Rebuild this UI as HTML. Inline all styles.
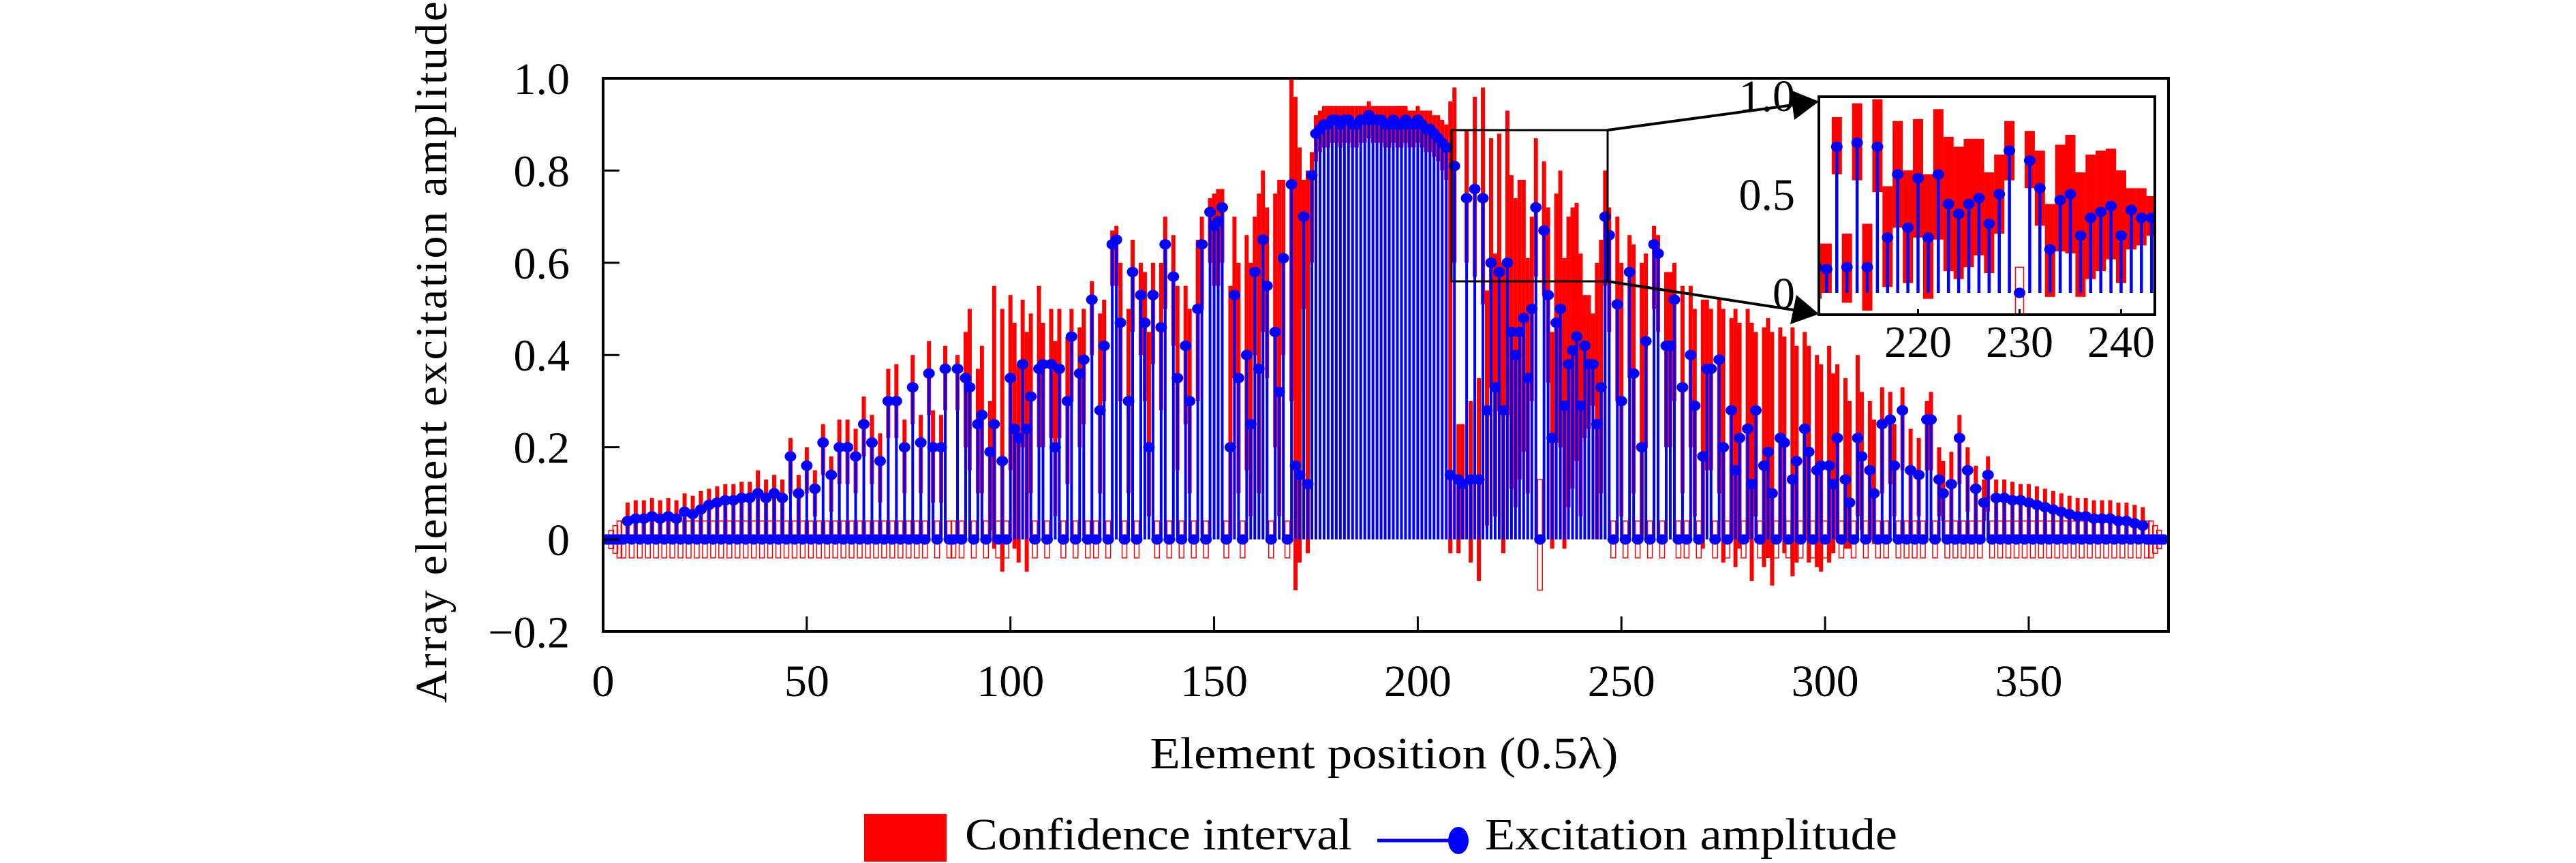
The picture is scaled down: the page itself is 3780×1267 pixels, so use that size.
<!DOCTYPE html>
<html><head><meta charset="utf-8"><style>
html,body{margin:0;padding:0;background:#fff;}
svg{display:block;}
text{font-family:"Liberation Serif",serif;fill:#000;}
</style></head><body>
<svg id="chart" width="3780" height="1267" viewBox="0 0 3780 1267" xmlns="http://www.w3.org/2000/svg">
<defs>
<clipPath id="mainClip"><rect x="885" y="115" width="2297" height="812"/></clipPath>
<clipPath id="insetClip"><rect x="2669" y="142" width="493" height="320"/></clipPath>
</defs>
<g id="mainMarks" clip-path="url(#mainClip)"></g>
<rect x="885" y="115" width="2297" height="812" fill="none" stroke="#000" stroke-width="4"/>
<g id="axes"></g>
<rect x="2130" y="191" width="229" height="222" fill="none" stroke="#000" stroke-width="3"/>
<line x1="2359" y1="191" x2="2632" y2="154" stroke="#000" stroke-width="4"/>
<polygon points="2669,149 2627,132 2633,176" fill="#000"/>
<line x1="2359" y1="413" x2="2632" y2="455" stroke="#000" stroke-width="4"/>
<polygon points="2669,461 2636,433 2627,476" fill="#000"/>
<rect x="2669" y="142" width="493" height="320" fill="#fff"/>
<g id="insetMarks" clip-path="url(#insetClip)"></g>
<rect x="2669" y="142" width="493" height="320" fill="none" stroke="#000" stroke-width="4"/>
<g id="insetAxes"></g>
<text x="2031" y="1128" font-size="66" text-anchor="middle" textLength="687" lengthAdjust="spacingAndGlyphs">Element position (0.5λ)</text>
<text transform="translate(655,517) rotate(-90)" font-size="66" text-anchor="middle" textLength="1030" lengthAdjust="spacing">Array element excitation amplitude</text>
<g>
<rect x="1268" y="1195" width="121" height="70" fill="#ff0000"/>
<text x="1416" y="1247" font-size="66" textLength="568" lengthAdjust="spacingAndGlyphs">Confidence interval</text>
<line x1="2021" y1="1234" x2="2126" y2="1234" stroke="#0000ff" stroke-width="5"/>
<ellipse cx="2140" cy="1234" rx="15" ry="20" fill="#0000ff"/>
<text x="2179" y="1247" font-size="66" textLength="605" lengthAdjust="spacingAndGlyphs">Excitation amplitude</text>
</g>
</svg>
<script>
const amp = [
0,0,0,0,0,0.04,0,0.045,0,0.045,
0,0.05,0,0.045,0,0.05,0,0.045,0,0.06,
0,0.055,0,0.065,0,0.075,0,0.08,0,0.085,
0,0.085,0,0.09,0,0.09,0,0.1,0,0.09,
0,0.1,0,0.09,0,0.18,0,0.1,0,0.16,
0,0.11,0,0.21,0,0.14,0,0.2,0,0.2,
0,0.18,0,0.25,0,0.21,0,0.17,0,0.3,
0,0.3,0,0.2,0,0.33,0,0.21,0,0.36,
0.2,0,0.2,0.37,0,0,0.37,0,0.35,0.33,
0,0.25,0.27,0,0.19,0.25,0,0.17,0,0.35,
0.24,0.22,0.38,0.24,0.31,0,0.37,0.38,0,0.38,
0.2,0.37,0,0.3,0.44,0,0.36,0.39,0,0.52,
0,0.28,0.42,0,0.64,0.65,0.47,0,0.3,0.58,
0,0.53,0.47,0.2,0.53,0,0.46,0.64,0,0.57,
0.35,0,0.42,0.3,0,0.5,0.64,0,0.71,0.68,
0.69,0.72,0,0.2,0.53,0.35,0,0.4,0.25,0.58,
0.37,0.65,0.55,0,0.45,0.32,0.61,0,0.77,0.16,
0.14,0.7,0.12,0.79,0.88,0.89,0.9,0.9,0.91,0.91,
0.9,0.91,0.91,0.9,0.9,0.91,0.91,0.92,0.91,0.91,
0.91,0.9,0.9,0.91,0.9,0.9,0.91,0.9,0.9,0.91,
0.9,0.89,0.89,0.88,0.87,0.86,0.85,0.14,0.81,0.13,
0.12,0.74,0.13,0.76,0.13,0.74,0.28,0.6,0.33,0.58,
0.28,0.6,0.45,0.4,0.45,0.48,0.35,0.5,0.72,0,
0.67,0.53,0.22,0.47,0.5,0.29,0.38,0.41,0.44,0.29,
0.42,0.38,0.38,0.25,0.33,0.7,0.66,0,0.51,0.3,
0,0.58,0.36,0,0.2,0.43,0,0.64,0.62,0,
0.42,0.42,0.52,0,0.33,0,0.4,0.29,0,0.18,
0.37,0.37,0,0.39,0.2,0,0.28,0.15,0.22,0,
0.24,0.12,0.28,0,0.16,0.19,0.1,0,0.22,0.21,
0,0.13,0.17,0,0.24,0.19,0,0.15,0.16,0,
0.16,0.12,0.22,0,0.13,0.08,0,0.22,0.18,0,
0.15,0.1,0,0.25,0,0.26,0.16,0,0.28,0,
0.15,0,0.14,0,0.26,0.26,0,0.13,0.1,0,
0.12,0,0.22,0,0.15,0,0.11,0,0.08,0.14,
0,0.09,0,0.09,0,0.085,0,0.085,0,0.08,
0,0.075,0,0.07,0,0.065,0,0.06,0,0.055,
0,0.05,0,0.05,0,0.045,0,0.045,0,0.045,
0,0.04,0,0.04,0,0.035,0,0.03,0,0,
0,0,0];
const ciHigh = [
.01,.02,.03,.04,.04,.08,.04,.085,.04,.085,
.04,.09,.04,.085,.04,.09,.04,.085,.04,.1,
.04,.095,.04,.105,.04,.11,.04,.115,.04,.12,
.04,.12,.04,.125,.04,.125,.04,.15,.04,.13,
.04,.14,.04,.13,.04,.22,.04,.14,.04,.2,
.04,.15,.04,.25,.04,.18,.04,.26,.04,.26,
.04,.24,.04,.31,.04,.27,.04,.23,.04,.37,
.04,.38,.04,.26,.04,.4,.04,.27,.04,.43,
.28,.04,.27,.42,.04,.04,.4,.04,.45,.5,
.04,.37,.42,.04,.3,.55,.04,.5,.04,.53,
.47,.38,.52,.45,.49,.04,.55,.47,.04,.5,
.43,.5,.04,.44,.5,.04,.46,.5,.04,.56,
.04,.49,.52,.04,.67,.68,.6,.04,.5,.65,
.04,.6,.58,.45,.6,.04,.6,.7,.04,.66,
.55,.04,.55,.5,.04,.65,.7,.04,.74,.75,
.76,.76,.04,.55,.7,.6,.04,.66,.6,.7,
.75,.8,.72,.04,.75,.78,.78,.04,1.0,.96,
.85,.78,.8,.84,.92,.93,.94,.94,.94,.94,
.94,.94,.94,.94,.94,.94,.94,.95,.94,.94,
.94,.94,.94,.94,.94,.94,.94,.93,.93,.94,
.93,.93,.93,.92,.92,.91,.9,.95,.98,.25,
.25,.89,.3,.96,.35,.98,.54,.87,.62,.88,
.6,.93,.79,.74,.78,.78,.61,.7,.87,.13,
.82,.72,.45,.75,.8,.61,.7,.72,.73,.62,
.53,.53,.49,.6,.65,.8,.72,.04,.7,.6,
.04,.66,.64,.04,.6,.62,.04,.68,.66,.04,
.58,.58,.6,.04,.55,.04,.55,.5,.04,.52,
.52,.5,.04,.52,.5,.04,.48,.5,.47,.04,
.5,.47,.45,.04,.46,.48,.45,.04,.46,.44,
.04,.46,.42,.04,.45,.42,.04,.4,.38,.04,
.42,.36,.38,.04,.35,.3,.04,.4,.32,.04,
.3,.26,.04,.33,.04,.32,.25,.04,.33,.04,
.24,.04,.22,.04,.3,.32,.04,.2,.17,.04,
.19,.04,.27,.04,.2,.04,.16,.04,.13,.18,
.04,.13,.04,.13,.04,.125,.04,.12,.04,.12,
.04,.115,.04,.11,.04,.105,.04,.1,.04,.095,
.04,.09,.04,.09,.04,.085,.04,.085,.04,.085,
.04,.08,.04,.08,.04,.075,.04,.07,.04,.04,
.03,.02,.01];
const ciLow = [
-.01,-.02,-.03,-.04,-.04,.03,-.04,.035,-.04,.035,
-.04,.035,-.04,.035,-.04,.035,-.04,.035,-.04,.035,
-.04,.035,-.04,.035,-.04,.04,-.04,.04,-.04,.04,
-.04,.04,-.04,.04,-.04,.04,-.04,.04,-.04,.04,
-.04,.04,-.04,.04,-.04,.1,-.04,.04,-.04,.1,
-.04,.05,-.04,.14,-.04,.06,-.04,.12,-.04,.12,
-.04,.1,-.04,.18,-.04,.12,-.04,.08,-.04,.22,
-.04,.22,-.04,.1,-.04,.25,-.04,.1,-.04,.27,
.08,-.04,.08,.28,-.04,-.04,.28,-.04,.2,.15,
-.04,.1,.1,-.04,.02,-.02,-.04,-.07,-.04,.15,
-.02,-.05,.2,-.07,.1,-.04,.2,.2,-.04,.22,
.05,.22,-.04,.12,.3,-.04,.2,.25,-.04,.4,
-.04,.1,.3,-.04,.55,.55,.3,-.04,.1,.45,
-.04,.4,.3,.05,.38,-.04,.28,.5,-.04,.42,
.15,-.04,.25,.1,-.04,.3,.5,-.04,.6,.55,
.55,.6,-.04,0,.35,.1,-.04,.15,.05,.4,
.1,.45,.35,-.04,.2,.05,.4,-.04,.3,-.11,
-.05,.5,-.03,.6,.82,.84,.85,.85,.86,.86,
.85,.86,.86,.85,.85,.86,.86,.87,.86,.86,
.86,.85,.85,.86,.85,.85,.86,.85,.85,.86,
.85,.84,.84,.83,.82,.8,.78,-.03,.6,-.03,
0,.6,-.05,.57,-.09,.51,.03,.33,.05,.28,
-.03,.27,.11,.07,.13,.19,.1,.3,.57,-.11,
.53,.34,-.02,.21,.2,-.02,.07,.11,.17,.05,
.22,.24,.29,0,.1,.55,.45,-.04,.3,.05,
-.04,.35,.1,-.04,0,.2,-.04,.5,.45,-.04,
.2,.2,.3,-.04,.1,-.04,.2,.05,-.04,-.02,
.15,.15,-.04,.1,-.05,-.04,0,-.06,-.02,-.04,
0,-.09,.05,-.04,-.06,-.04,-.1,-.04,0,-.03,
-.04,-.08,-.05,-.04,0,-.05,-.04,-.06,-.07,-.04,
-.05,-.03,0,-.04,-.02,-.02,-.04,.05,.02,-.04,
0,-.01,-.04,.1,-.04,.12,.05,-.04,.15,-.04,
.04,-.04,.05,-.04,.15,.15,-.04,.05,.04,-.04,
.04,-.04,.12,-.04,.06,-.04,.04,-.04,.04,.06,
-.04,.04,-.04,.04,-.04,.04,-.04,.04,-.04,.04,
-.04,.035,-.04,.035,-.04,.035,-.04,.035,-.04,.035,
-.04,.03,-.04,.03,-.04,.03,-.04,.03,-.04,.03,
-.04,.03,-.04,.03,-.04,.03,-.04,.02,-.04,-.04,
-.03,-.02,-.01];
const xTicks = [0,50,100,150,200,250,300,350];
const yTicks = [-0.2,0,0.2,0.4,0.6,0.8,1.0];
const yTickLabels = ["\u22120.2","0","0.2","0.4","0.6","0.8","1.0"];
const insetXTicks = [220,230,240];
const insetYTicks = [0,0.5,1.0];
const insetYTickLabels = ["0","0.5","1.0"];

const NS = "http://www.w3.org/2000/svg";
function mk(tag, attrs, parent){
  const e = document.createElementNS(NS, tag);
  for (const k in attrs) e.setAttribute(k, attrs[k]);
  parent.appendChild(e);
  return e;
}
const X0 = 885, XS = 5.977, Y0 = 792, YS = 677;
const xs = v => X0 + v * XS;
const ys = v => Y0 - v * YS;
const IX0 = 2814.5, IXS = 14.9, IY0 = 430, IYS = 290;
const ixs = v => IX0 + (v - 220) * IXS;
const iys = v => IY0 - v * IYS;

function drawSeries(g, sx, sy, bw, hw, sw, r){
  for (let i = 0; i < amp.length; i++){
    const n = i + 1, x = sx(n);
    const top = sy(ciHigh[i]), bot = sy(ciLow[i]);
    if (amp[i] === 0){
      const el = mk('rect', {x: x - hw/2, y: top, width: hw, height: Math.max(bot - top, 1), fill: 'none', stroke: '#ff0000', 'stroke-width': 1.5}, g);
      
      
    } else {
      const el = mk('rect', {x: x - bw/2, y: top, width: bw, height: Math.max(bot - top, 1), fill: '#ff0000'}, g);
      
      
    }
  }
  for (let i = 0; i < amp.length; i++){
    const n = i + 1, x = sx(n);
    const el = mk('line', {x1: x, y1: sy(0), x2: x, y2: sy(amp[i]), stroke: '#0000ff', 'stroke-width': sw}, g);
    
    
  }
  for (let i = 0; i < amp.length; i++){
    const n = i + 1;
    const el = mk('ellipse', {cx: sx(n), cy: sy(amp[i]), rx: r, ry: r * 0.9, fill: '#0000ff'}, g);
    
    
  }
}
drawSeries(document.getElementById('mainMarks'), xs, ys, 6, 7, 4, 8.5);
drawSeries(document.getElementById('insetMarks'), ixs, iys, 15, 12, 4.5, 8.5);

const ax = document.getElementById('axes');
xTicks.forEach(t => {
  const l = mk('line', {x1: xs(t), y1: 927, x2: xs(t), y2: 905, stroke: '#000', 'stroke-width': 3}, ax);
  
  
  const tx = mk('text', {x: xs(t), y: 1022, 'font-size': 66, 'text-anchor': 'middle'}, ax);
  tx.textContent = String(t);
  
  
});
yTicks.forEach((t, k) => {
  const l = mk('line', {x1: 885, y1: ys(t), x2: 909, y2: ys(t), stroke: '#000', 'stroke-width': 3}, ax);
  
  
  const tx = mk('text', {x: 836, y: ys(t) + 23, 'font-size': 66, 'text-anchor': 'end'}, ax);
  tx.textContent = yTickLabels[k];
  
  
});
const iax = document.getElementById('insetAxes');
insetXTicks.forEach(t => {
  const l = mk('line', {x1: ixs(t), y1: 462, x2: ixs(t), y2: 454, stroke: '#000', 'stroke-width': 3}, iax);
  
  
  const tx = mk('text', {x: ixs(t), y: 524, 'font-size': 66, 'text-anchor': 'middle'}, iax);
  tx.textContent = String(t);
  
  
});
insetYTicks.forEach((t, k) => {
  const tx = mk('text', {x: 2634, y: iys(t) + 23, 'font-size': 66, 'text-anchor': 'end'}, iax);
  tx.textContent = insetYTickLabels[k];
  
  
});
</script>
</body></html>
